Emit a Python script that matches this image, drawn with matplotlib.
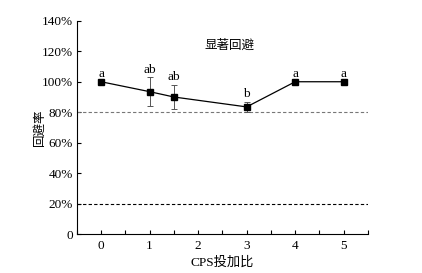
import numpy as np
import matplotlib.pyplot as plt
from matplotlib.ticker import MultipleLocator

plt.rcParams['font.family'] = ['Liberation Serif', 'Noto Sans CJK SC']

# 数据
ratio = [0, 1, 1.5, 3, 4, 5]
avoid = [100, 93.5, 90, 83.5, 100, 100]
err = [0, 9.3, 8, 3.2, 0, 0]
letters = ['a', 'ab', 'ab', 'b', 'a', 'a']
yticks = [0, 20, 40, 60, 80, 100, 120, 140]
ylabels = ['0', '20%', '40%', '60%', '80%', '100%', '120%', '140%']

fig = plt.figure(figsize=(4.22, 2.73), dpi=100)
ax = fig.add_axes([0.182, 0.142, 0.69, 0.782])

ax.axhline(80, color='#777777', ls='--', lw=0.8, dashes=(3, 2))
ax.axhline(20, color='black', ls='--', lw=0.8, dashes=(3, 2))

ax.errorbar(ratio, avoid, yerr=[e if e > 0 else np.nan for e in err],
            color='black', marker='s', ms=4, lw=0.9, elinewidth=0.7,
            ecolor='#555555', capsize=2, capthick=0.7)

for x, y, e, t in zip(ratio, avoid, err, letters):
    ax.text(x, y + e + 1.2, t, ha='center', va='bottom', fontsize=9.5)

ax.text(2.65, 123.5, '显著回避', ha='center', va='center', fontsize=9)

ax.set_xlim(-0.5, 5.5)
ax.set_ylim(0, 140)
ax.set_yticks(yticks)
ax.set_yticklabels(ylabels)
ax.xaxis.set_major_locator(MultipleLocator(1))
ax.xaxis.set_minor_locator(MultipleLocator(0.5))
ax.tick_params(direction='in', labelsize=9.5, width=0.8, length=3)
ax.tick_params(which='minor', direction='in', width=0.8, length=3)
ax.tick_params(axis='x', pad=4)
ax.tick_params(axis='y', pad=3)
ax.spines['top'].set_visible(False)
ax.spines['right'].set_visible(False)
ax.set_xlabel('CPS投加比', fontsize=9.5, labelpad=3)
ax.set_ylabel('回避率', fontsize=9, labelpad=-3)

fig.savefig('out.png', dpi=100)
